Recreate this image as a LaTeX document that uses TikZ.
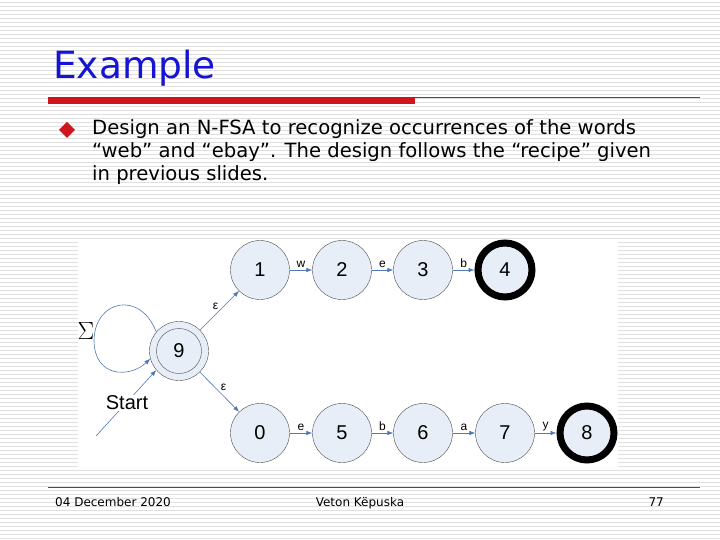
\documentclass[tikz,border=0pt]{standalone}
\usepackage{fontspec}
\setmainfont{DejaVu Sans}
\newfontfamily\arial{Liberation Sans}
\usetikzlibrary{arrows.meta}
\definecolor{nodefill}{RGB}{232,238,248}
\definecolor{edge}{RGB}{80,120,180}
\definecolor{titleblue}{RGB}{20,20,210}
\definecolor{barred}{RGB}{210,20,30}
\begin{document}
\begin{tikzpicture}[x=1pt,y=-1pt,
  st/.style={circle,draw=black!70,fill=nodefill,minimum size=59pt,inner sep=0pt,font=\fontsize{20}{20}\selectfont\arial},
  fin/.style={st,line width=7pt,draw=black,minimum size=54pt},
  tr/.style={-{Latex[length=6pt,width=4.5pt]},draw=edge,line width=0.6pt},
  lb/.style={font=\fontsize{12}{12}\selectfont\arial,inner sep=1pt}]
\useasboundingbox (0,0) rectangle (720,540);
\fill[white] (0,0) rectangle (720,540);
\foreach \y in {2,6,...,538} \draw[black!12,line width=0.8pt] (0,\y) -- (720,\y);
\fill[white] (78,240) rectangle (618,467);
% title
\node[anchor=base west,text=titleblue,font=\fontsize{37.5}{37.5}\selectfont,inner sep=0pt] (title) at (53,79) {Example};
\fill[barred] (48,97) rectangle (415,104);
\draw[barred,line width=0.7pt] (415,97.5) -- (700,97.5);
\fill[barred] (67,122) -- (75,130) -- (67,138) -- (59,130) -- cycle;
\node[anchor=north west,align=left,inner sep=0pt,font=\fontsize{19.6}{23}\selectfont] (txt) at (92,119) {Design an N-FSA to recognize occurrences of the words\\“web” and “ebay”. The design follows the “recipe” given\\in previous slides.};
% footer
\draw[barred,line width=0.7pt] (48,487) -- (700,487);
\node[anchor=base west,font=\fontsize{12}{12}\selectfont,inner sep=0pt] (d) at (55,506) {04 December 2020};
\node[anchor=base,font=\fontsize{12}{12}\selectfont,inner sep=0pt] (a) at (360,506) {Veton Këpuska};
\node[anchor=base east,font=\fontsize{12}{12}\selectfont,inner sep=0pt] (p) at (664,506) {77};
% automaton
\node[st] (n1) at (260,270) {1};
\node[st] (n2) at (342,270) {2};
\node[st] (n3) at (423,270) {3};
\node[fin] (n4) at (505,270) {4};
\node[st] (n0) at (260,433) {0};
\node[st] (n5) at (342,433) {5};
\node[st] (n6) at (423,433) {6};
\node[st] (n7) at (505,433) {7};
\node[fin] (n8) at (587,433) {8};
\node[st] (n9) at (179,351) {};
\node[st,minimum size=45pt] (n9i) at (179,351) {9};
\draw[tr] (n1) -- node[lb,above=1pt]{w} (n2);
\draw[tr] (n2) -- node[lb,above=1pt]{e} (n3);
\draw[tr] (n3) -- node[lb,above=1pt]{b} (n4);
\draw[tr] (n0) -- node[lb,above=1pt]{e} (n5);
\draw[tr] (n5) -- node[lb,above=1pt]{b} (n6);
\draw[tr] (n6) -- node[lb,above=1pt]{a} (n7);
\draw[tr] (n7) -- node[lb,above=1pt]{y} (n8);
\draw[tr] (n9) -- node[lb,above left=0pt]{ε} (n1);
\draw[tr] (n9) -- node[lb,above right=0pt]{ε} (n0);
\draw[tr] (n9.140) .. controls (140,290) and (95,300) .. (94,340) .. controls (94,378) and (130,378) .. (n9.195);
\node[font=\fontsize{24}{24}\selectfont,inner sep=0pt] (sig) at (86,331) {$\Sigma$};
\coordinate (s0) at (96,436);
\draw[tr] (s0) -- (n9.220);
\node[font=\fontsize{20}{20}\selectfont\arial,fill=white,inner sep=1pt] (start) at (127,403) {Start};
\end{tikzpicture}
\end{document}
